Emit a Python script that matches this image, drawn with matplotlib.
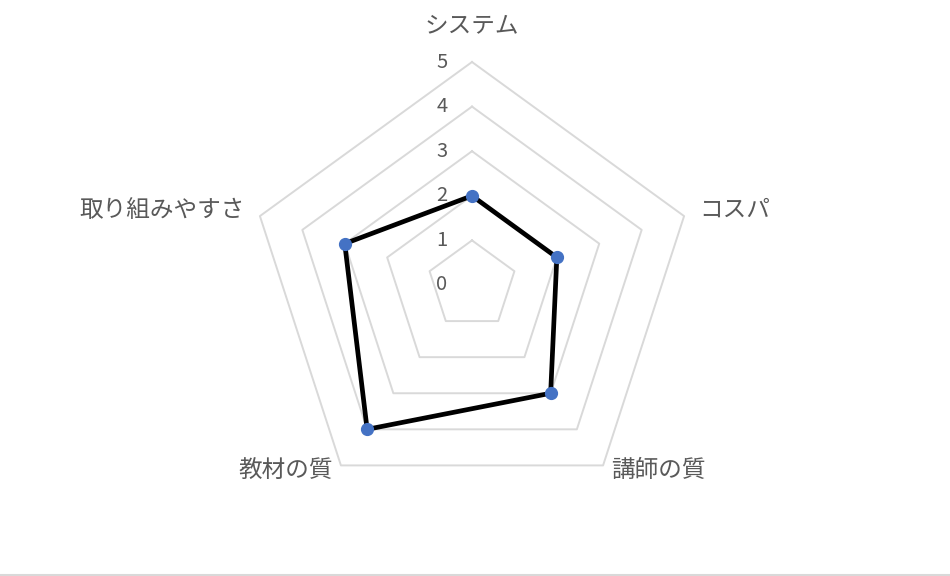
import numpy as np
import matplotlib
matplotlib.use("Agg")
import matplotlib.pyplot as plt
from matplotlib.lines import Line2D

plt.rcParams['font.family'] = ['Noto Sans CJK JP', 'DejaVu Sans']

categories = ["システム", "コスパ", "講師の質", "教材の質", "取り組みやすさ"]
values = [2, 2, 3, 4, 3]
ring_levels = [1, 2, 3, 4, 5]
tick_labels = ["0", "1", "2", "3", "4", "5"]

W, H = 950, 576
fig = plt.figure(figsize=(W / 100, H / 100), dpi=100)
cx, cy, R = 472, 285, 223
ax = fig.add_axes([(cx - R) / W, (H - cy - R) / H, 2 * R / W, 2 * R / H], projection='polar')
ax.set_theta_offset(np.pi / 2)
ax.set_theta_direction(-1)
ax.set_ylim(0, 5)
ax.grid(False)
ax.spines['polar'].set_visible(False)
ax.set_xticks([])
ax.set_yticks([])
ax.patch.set_visible(False)

n = len(categories)
theta = np.arange(n) * 2 * np.pi / n
theta_closed = np.append(theta, theta[0])

grid_color = '#D9D9D9'
for lv in ring_levels:
    ax.plot(theta_closed, [lv] * (n + 1), color=grid_color, lw=1.4, zorder=1, clip_on=False)

vals_closed = values + values[:1]
ax.plot(theta_closed, vals_closed, color='black', lw=3.4, zorder=3, clip_on=False,
        solid_joinstyle='miter')
ax.plot(theta, values, 'o', color='#4472C4', markersize=8.5, zorder=4, clip_on=False)

txt_color = '#595959'
# radial tick labels
for i, lab in enumerate(tick_labels):
    ax.annotate(lab, xy=(0, i), xytext=(-30 * 0.72, 0), textcoords='offset points',
                ha='center', va='center', fontsize=14.5, color=txt_color,
                annotation_clip=False)

# category labels
offsets = [(0, 36, 'center'), (15, 6, 'left'), (8, -5, 'left'), (-8, -5, 'right'), (-15, 6, 'right')]
for t, lab, (dx, dy, ha) in zip(theta, categories, offsets):
    ax.annotate(lab, xy=(t, 5), xytext=(dx * 0.72, dy * 0.72), textcoords='offset points',
                ha=ha, va='center', fontsize=17, color=txt_color, annotation_clip=False)

# bottom border line
fig.add_artist(Line2D([0, 1], [1.5 / H, 1.5 / H], transform=fig.transFigure,
                      color=grid_color, lw=2.2))

fig.savefig('out.png', dpi=100)
